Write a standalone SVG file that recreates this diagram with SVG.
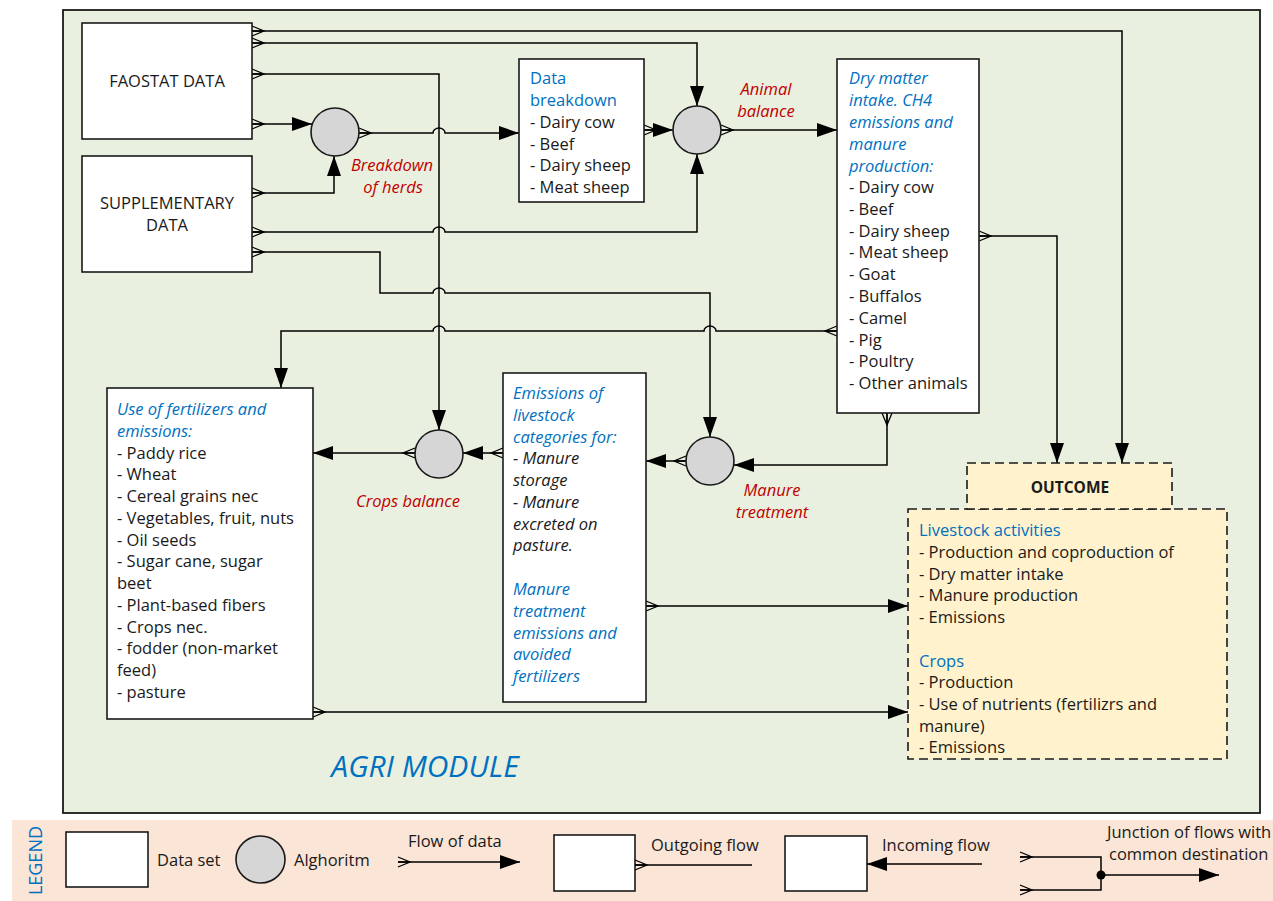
<svg xmlns="http://www.w3.org/2000/svg" width="1273" height="901" viewBox="0 0 1273 901">
<defs>
<marker id="ar" markerUnits="userSpaceOnUse" markerWidth="22" markerHeight="16" viewBox="-21 -8 22 16" refX="0" refY="0" orient="auto">
<path d="M0,0 L-20,-7 L-20,7 Z" fill="#000"/>
</marker>
<marker id="cf" markerUnits="userSpaceOnUse" markerWidth="16" markerHeight="14" viewBox="-2 -7 16 14" refX="0" refY="0" orient="auto">
<path d="M0,-5 L12,0 L0,5 M0,0 L12,0" fill="none" stroke="#000" stroke-width="1.3"/>
</marker>
</defs>
<style>
.box{fill:#fff;stroke:#1a1a1a;stroke-width:1.6}
.alg{fill:#d6d6d6;stroke:#1a1a1a;stroke-width:1.6}
.ln{fill:none;stroke:#000;stroke-width:1.5}
.fl{marker-start:url(#cf);marker-end:url(#ar)}
.t{font-family:"Open Sans","Liberation Sans",sans-serif;font-size:16.5px;fill:#1a1a1a}
.bi{fill:#0070C0;font-style:italic}
.bu{fill:#0070C0}
.ri{fill:#C00000;font-style:italic}
.ki{font-style:italic}
.out{fill:#FFF2CC;stroke:#1a1a1a;stroke-width:1.6;stroke-dasharray:9 5}
</style>

<g id="agri-module">
<rect x="63" y="10" width="1197" height="803" fill="#EAF0DF" stroke="#1a1a1a" stroke-width="1.8"/>
<text class="t bi" x="425" y="777" text-anchor="middle" style="font-size:30px">AGRI MODULE</text>
</g>

<g id="connectors">
<path class="ln fl" d="M252,31 H1122 V463"/>
<path class="ln fl" d="M252,43 H697 V106"/>
<path class="ln fl" d="M252,74 H439 V430"/>
<path class="ln fl" d="M252,124 H312"/>
<path class="ln fl" d="M252,193 H334 V156"/>
<path class="ln fl" d="M359,133 H433 A6,5 0 0 1 445,133 H519"/>
<path class="ln fl" d="M644,130 H673"/>
<path class="ln fl" d="M721,130 H837"/>
<path class="ln fl" d="M252,232 H433 A6,5 0 0 1 445,232 H697 V154"/>
<path class="ln fl" d="M252,252 H380 V293 H433 A6,5 0 0 1 445,293 H710 V437"/>
<path class="ln fl" d="M837,331 H716 A6,5 0 0 0 704,331 H445 A6,5 0 0 0 433,331 H281 V388"/>
<path class="ln fl" d="M979,236 H1057 V463"/>
<path class="ln fl" d="M887,413 V465 H734"/>
<path class="ln fl" d="M686,461 H646"/>
<path class="ln fl" d="M503,453 H463"/>
<path class="ln fl" d="M415,453 H313"/>
<path class="ln fl" d="M646,606 H908"/>
<path class="ln fl" d="M313,712 H908"/>
</g>

<g id="faostat">
<rect class="box" x="82" y="23" width="170" height="116"/>
<text class="t" x="167" y="87" text-anchor="middle">FAOSTAT DATA</text>
</g>

<g id="supplementary">
<rect class="box" x="82" y="156" width="170" height="116"/>
<text class="t" x="167" y="209" text-anchor="middle">SUPPLEMENTARY</text>
<text class="t" x="167" y="231" text-anchor="middle">DATA</text>
</g>

<g id="breakdown-of-herds">
<circle class="alg" cx="335" cy="132" r="24"/>
<text class="t ri" x="392" y="171" text-anchor="middle">Breakdown</text>
<text class="t ri" x="393" y="193" text-anchor="middle">of herds</text>
</g>

<g id="data-breakdown">
<rect class="box" x="519" y="59" width="125" height="143"/>
<text class="t bu" x="530" y="84">Data</text>
<text class="t bu" x="530" y="106">breakdown</text>
<text class="t" x="530" y="128">- Dairy cow</text>
<text class="t" x="530" y="150">- Beef</text>
<text class="t" x="530" y="171">- Dairy sheep</text>
<text class="t" x="530" y="193">- Meat sheep</text>
</g>

<g id="animal-balance">
<circle class="alg" cx="697" cy="130" r="24"/>
<text class="t ri" x="766" y="95" text-anchor="middle">Animal</text>
<text class="t ri" x="766" y="117" text-anchor="middle">balance</text>
</g>

<g id="dry-matter">
<rect class="box" x="837" y="59" width="142" height="354"/>
<text class="t bi" x="849" y="84">Dry matter</text>
<text class="t bi" x="849" y="106">intake. CH4</text>
<text class="t bi" x="849" y="128">emissions and</text>
<text class="t bi" x="849" y="150">manure</text>
<text class="t bi" x="849" y="172">production:</text>
<text class="t" x="849" y="193">- Dairy cow</text>
<text class="t" x="849" y="215">- Beef</text>
<text class="t" x="849" y="237">- Dairy sheep</text>
<text class="t" x="849" y="258">- Meat sheep</text>
<text class="t" x="849" y="280">- Goat</text>
<text class="t" x="849" y="302">- Buffalos</text>
<text class="t" x="849" y="324">- Camel</text>
<text class="t" x="849" y="346">- Pig</text>
<text class="t" x="849" y="367">- Poultry</text>
<text class="t" x="849" y="389">- Other animals</text>
</g>

<g id="use-of-fertilizers">
<rect class="box" x="107" y="388" width="206" height="331"/>
<text class="t bi" x="117" y="415">Use of fertilizers and</text>
<text class="t bi" x="117" y="437">emissions:</text>
<text class="t" x="117" y="459">- Paddy rice</text>
<text class="t" x="117" y="480">- Wheat</text>
<text class="t" x="117" y="502">- Cereal grains nec</text>
<text class="t" x="117" y="524">- Vegetables, fruit, nuts</text>
<text class="t" x="117" y="546">- Oil seeds</text>
<text class="t" x="117" y="567">- Sugar cane, sugar</text>
<text class="t" x="117" y="589">beet</text>
<text class="t" x="117" y="611">- Plant-based fibers</text>
<text class="t" x="117" y="633">- Crops nec.</text>
<text class="t" x="117" y="654">- fodder (non-market</text>
<text class="t" x="117" y="676">feed)</text>
<text class="t" x="117" y="698">- pasture</text>
</g>

<g id="crops-balance">
<circle class="alg" cx="439" cy="454" r="24"/>
<text class="t ri" x="408" y="507" text-anchor="middle">Crops balance</text>
</g>

<g id="emissions-livestock">
<rect class="box" x="503" y="373" width="143" height="329"/>
<text class="t bi" x="513" y="399">Emissions of</text>
<text class="t bi" x="513" y="421">livestock</text>
<text class="t bi" x="513" y="443">categories for:</text>
<text class="t ki" x="513" y="464">- Manure</text>
<text class="t ki" x="513" y="486">storage</text>
<text class="t ki" x="513" y="508">- Manure</text>
<text class="t ki" x="513" y="530">excreted on</text>
<text class="t ki" x="513" y="551">pasture.</text>
<text class="t bi" x="513" y="595">Manure</text>
<text class="t bi" x="513" y="617">treatment</text>
<text class="t bi" x="513" y="639">emissions and</text>
<text class="t bi" x="513" y="660">avoided</text>
<text class="t bi" x="513" y="682">fertilizers</text>
</g>

<g id="manure-treatment">
<circle class="alg" cx="710" cy="461" r="24"/>
<text class="t ri" x="772" y="496" text-anchor="middle">Manure</text>
<text class="t ri" x="772" y="518" text-anchor="middle">treatment</text>
</g>

<g id="outcome">
<rect class="out" x="908" y="509" width="319" height="250"/>
<rect class="out" x="967" y="463" width="205" height="46"/>
<text class="t" x="1070" y="493" text-anchor="middle" style="font-weight:bold;font-size:15.5px">OUTCOME</text>
<text class="t bu" x="919" y="536">Livestock activities</text>
<text class="t" x="919" y="558">- Production and coproduction of</text>
<text class="t" x="919" y="580">- Dry matter intake</text>
<text class="t" x="919" y="601">- Manure production</text>
<text class="t" x="919" y="623">- Emissions</text>
<text class="t bu" x="919" y="667">Crops</text>
<text class="t" x="919" y="688">- Production</text>
<text class="t" x="919" y="710">- Use of nutrients (fertilizrs and</text>
<text class="t" x="919" y="732">manure)</text>
<text class="t" x="919" y="753">- Emissions</text>
</g>

<g id="legend">
<rect x="12" y="820" width="1261" height="81" fill="#FBE5D6"/>
<text class="t bu" transform="translate(42,826) rotate(-90)" text-anchor="end" style="font-size:18px">LEGEND</text>
<rect class="box" x="66" y="832" width="82" height="55"/>
<text class="t" x="157" y="866">Data set</text>
<ellipse class="alg" cx="260.5" cy="859.5" rx="24.5" ry="23.5"/>
<text class="t" x="294" y="866">Alghoritm</text>
<text class="t" x="408" y="847">Flow of data</text>
<path class="ln fl" d="M398,862 H520"/>
<rect class="box" x="554" y="835" width="81" height="56"/>
<path class="ln" d="M635,865 H752" marker-start="url(#cf)"/>
<text class="t" x="651" y="851">Outgoing flow</text>
<rect class="box" x="785" y="836" width="82" height="55"/>
<path class="ln" d="M982,864 H867" marker-end="url(#ar)"/>
<text class="t" x="882" y="851">Incoming flow</text>
<path class="ln" d="M1020,857 H1101 V875" marker-start="url(#cf)"/>
<path class="ln" d="M1020,890 H1101 V875" marker-start="url(#cf)"/>
<path class="ln" d="M1101,875 H1219" marker-end="url(#ar)"/>
<circle cx="1101" cy="875" r="4.5" fill="#000"/>
<text class="t" x="1107" y="838">Junction of flows with</text>
<text class="t" x="1109" y="860">common destination</text>
</g>
</svg>
